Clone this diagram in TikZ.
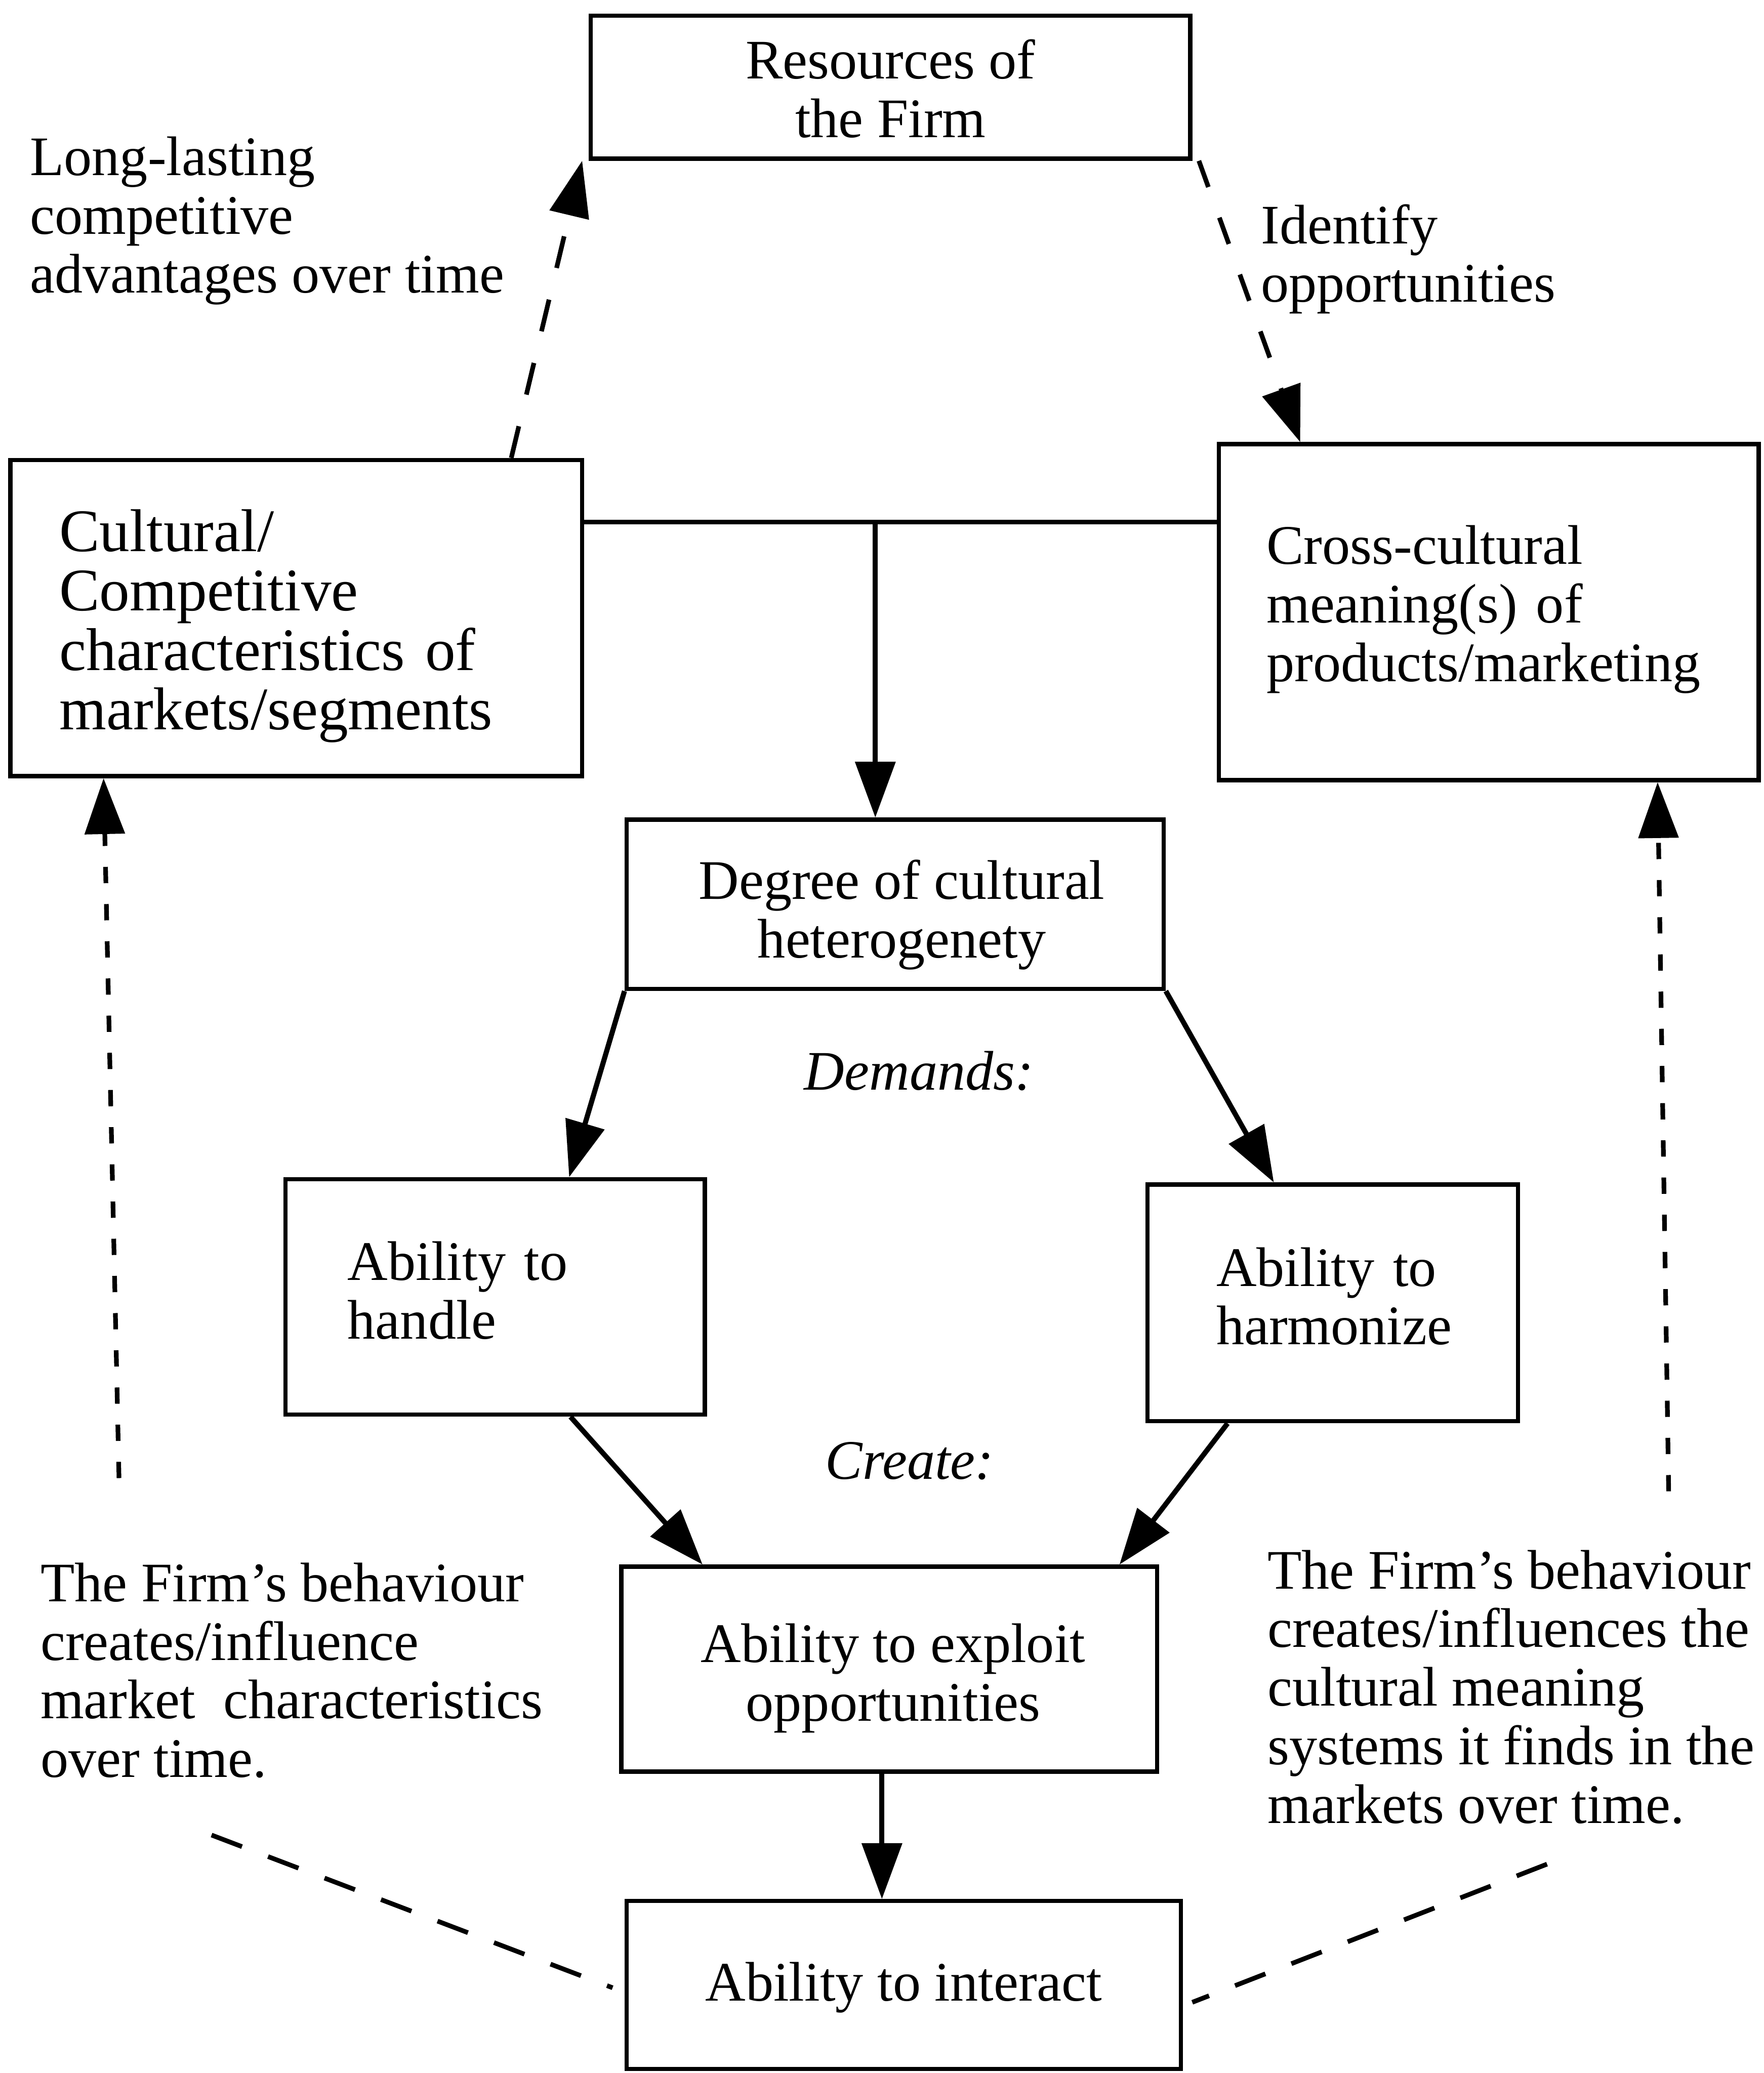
\documentclass[tikz,border=0pt]{standalone}
\usepackage{fontspec}
\setmainfont{Liberation Serif}
\usetikzlibrary{arrows.meta,calc}
\begin{document}
\begin{tikzpicture}[x=0.01cm,y=-0.01cm,
  box/.style={draw,line width=0.9pt,inner sep=0pt},
  txt/.style={font=\fontsize{12}{12.6}\selectfont},
  btxt/.style={txt,inner sep=0pt},
  lbl/.style={align=left,inner sep=0pt,txt},
  sarr/.style={line width=1.1pt,-{Triangle[length=12pt,width=8.5pt]}},
  darr/.style={line width=1pt,dash pattern=on 7pt off 7pt,-{Triangle[length=12pt,width=8.5pt]}},
  varr/.style={line width=1pt,dash pattern=on 3.5pt off 4.5pt,-{Triangle[length=12pt,width=8.5pt]}},
  dline/.style={line width=1pt,dash pattern=on 7pt off 6pt}]
\useasboundingbox (0,0) rectangle (1334,1568);

% boxes
\node[box,minimum width=4.53cm,minimum height=1.08cm] (res) at (673.5,66) {};
\node[btxt,align=center] (rest) at ([yshift=-0.01cm]res.center) {Resources of\\the Firm};
\node[box,minimum width=4.32cm,minimum height=2.39cm] (lbox) at (224,467.5) {};
\node[inner sep=0pt,text width=3.58cm,align=left,font=\fontsize{13}{12.8}\selectfont] (lboxt) at ([yshift=-0.06cm]lbox.center) {Cultural/\\Competitive\\characteristics of\\markets/segments};
\node[box,minimum width=4.08cm,minimum height=2.54cm] (rbox) at (1126,463) {};
\node[btxt,text width=3.36cm,align=left] (rboxt) at ([yshift=0.02cm]rbox.center) {Cross-cultural\\meaning(s) of\\products/marketing};
\node[box,minimum width=4.06cm,minimum height=1.28cm] (deg) at (677,684) {};
\node[btxt,align=center] (degt) at ([xshift=0.05cm,yshift=-0.08cm]deg.center) {Degree of cultural\\heterogenety};
\node[box,minimum width=3.17cm,minimum height=1.78cm] (hand) at (374.5,981) {};
\node[btxt,text width=2.23cm,align=left] (handt) at ([yshift=0.05cm]hand.center) {Ability to\\handle};
\node[box,minimum width=2.80cm,minimum height=1.79cm] (harm) at (1008,985.5) {};
\node[btxt,text width=1.76cm,align=left] (harmt) at ([yshift=0.05cm]harm.center) {Ability to\\harmonize};
\node[box,minimum width=4.05cm,minimum height=1.55cm] (expl) at (672.5,1262.5) {};
\node[btxt,align=center] (explt) at ([xshift=0.03cm,yshift=-0.07cm]expl.center) {Ability to exploit\\opportunities};
\node[box,minimum width=4.19cm,minimum height=1.27cm] (inter) at (683.5,1501.5) {};
\node[btxt] (intert) at ([yshift=-0.02cm]inter.center) {Ability to interact};

% free labels
\node[lbl,anchor=west] (ll) at (22,167) {Long-lasting\\competitive\\advantages over time};
\node[lbl,anchor=west] (idf) at (953,196) {Identify\\opportunities};
\node[inner sep=0pt,font=\fontsize{12}{12.6}\selectfont\itshape] (dem) at (695,810) {Demands:};
\node[inner sep=0pt,font=\fontsize{12}{12.6}\selectfont\itshape] (cre) at (688,1105) {Create:};
\node[lbl,anchor=west] (bl) at (30,1263.5) {The Firm’s behaviour\\creates/influence\\market~ characteristics\\over time.};
\node[lbl,anchor=west] (br) at (958,1276) {The Firm’s behaviour\\creates/influences the\\cultural meaning\\systems it finds in the\\markets over time.};

% connectors
\draw[darr] ([xshift=-0.55cm]lbox.north east) -- ([xshift=-0.05cm]res.south west);
\draw[darr,dash pattern=on 6pt off 7pt] ([xshift=0.05cm]res.south east) -- ([xshift=0.63cm]rbox.north west);
\coordinate (j) at (662,395);
\draw[line width=1pt] (lbox.east |- j) -- (rbox.west |- j);
\draw[sarr] (j) -- (j |- deg.north);
\draw[sarr] (deg.south west) -- ([xshift=2.16cm]hand.north west);
\draw[sarr] (deg.south east) -- ([xshift=0.97cm]harm.north west);
\draw[sarr] ([xshift=2.17cm]hand.south west) -- ([xshift=0.63cm]expl.north west);
\draw[sarr] ([xshift=0.62cm]harm.south west) -- ([xshift=-0.30cm]expl.north east);
\draw[sarr] ([xshift=-0.055cm]expl.south) -- ([xshift=-0.055cm]expl.south |- inter.north);
\coordinate (lv) at (90,1118);
\coordinate (rv) at (1262,1128);
\draw[varr] (lv) -- ([xshift=0.72cm]lbox.south west);
\draw[varr] (rv) -- ([xshift=-0.78cm]rbox.south east);
\coordinate (bld) at (160,1388);
\coordinate (brd) at (1170,1410);
\draw[dline] (bld) -- ([xshift=-0.09cm,yshift=-0.02cm]inter.west);
\draw[dline] (brd) -- ([xshift=0.07cm,yshift=-0.13cm]inter.east);
\end{tikzpicture}
\end{document}
